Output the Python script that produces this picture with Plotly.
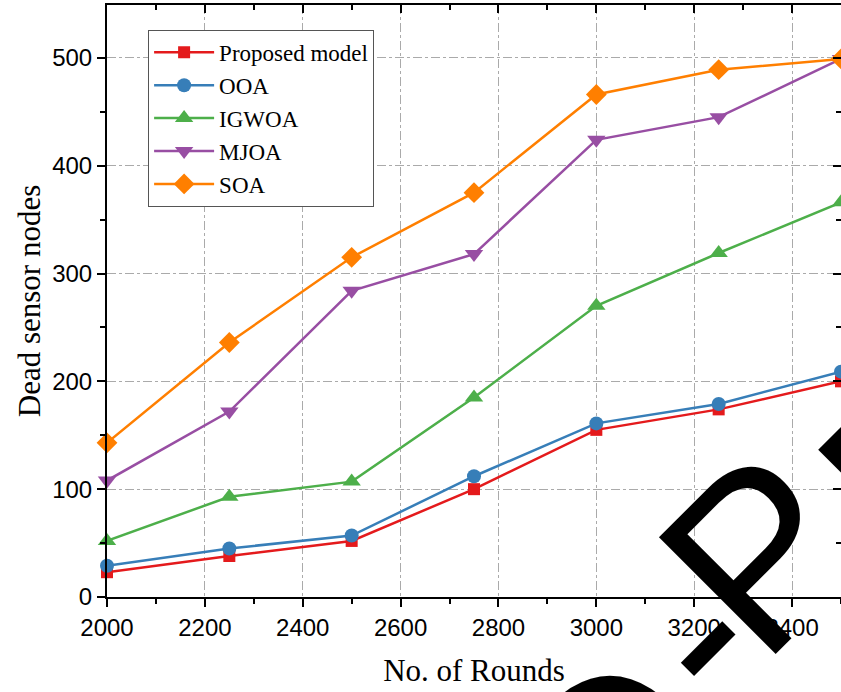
import plotly.graph_objects as go

rounds = [2000, 2250, 2500, 2750, 3000, 3250, 3500]
proposed = [23, 38, 52, 100, 155, 174, 200]
ooa = [29, 45, 57, 112, 161, 179, 209]
igwoa = [52, 93, 107, 185, 270, 319, 366]
mjoa = [108, 172, 284, 318, 424, 445, 499]
soa = [143, 236, 315, 375, 466, 489, 499]

series = [
    ("Proposed model", proposed, "#e41a1c", "square", 12),
    ("OOA", ooa, "#377eb8", "circle", 14),
    ("IGWOA", igwoa, "#4daf4a", "triangle-up", 16),
    ("MJOA", mjoa, "#984ea3", "triangle-down", 16),
    ("SOA", soa, "#ff7f00", "diamond", 16),
]

xticks = [2000, 2200, 2400, 2600, 2800, 3000, 3200, 3400]
yticks = [0, 100, 200, 300, 400, 500]
xrange_ = [2000, 3500]
yrange_ = [0, 549]

fig = go.Figure()
for name, vals, col, sym, sz in series:
    fig.add_trace(go.Scatter(
        x=rounds, y=vals, name=name, mode="lines+markers",
        line=dict(color=col, width=2.5),
        marker=dict(symbol=sym, size=sz, color=col),
        cliponaxis=False,
    ))

tickfont = dict(family="Liberation Sans, Arial", size=24, color="black")
titlefont = dict(family="Liberation Serif, Times New Roman", size=31, color="black")

fig.update_layout(
    width=841, height=692,
    margin=dict(l=107, r=0, t=5, b=95),
    plot_bgcolor="white", paper_bgcolor="white",
    showlegend=True,
    legend=dict(
        x=0.056, y=0.958, xanchor="left", yanchor="top",
        font=dict(family="Liberation Serif, Times New Roman", size=23, color="black"),
        bordercolor="#555555", borderwidth=1, bgcolor="white",
        tracegroupgap=0, itemwidth=60,
    ),
    xaxis=dict(
        range=xrange_, tickvals=xticks, ticktext=[str(v) for v in xticks],
        showline=True, linecolor="black", linewidth=2,
        ticks="outside", ticklen=8, tickwidth=2, tickcolor="black",
        showgrid=True, gridcolor="#aaaaaa", griddash="dashdot", gridwidth=1,
        minor=dict(dtick=100, tick0=2000, ticks="outside", ticklen=5, tickwidth=2, tickcolor="black", showgrid=False),
        tickfont=tickfont, zeroline=False,
        title=dict(text="No. of Rounds", font=titlefont, standoff=20),
    ),
    yaxis=dict(
        range=yrange_, tickvals=yticks,
        showline=True, linecolor="black", linewidth=2,
        ticks="outside", ticklen=8, tickwidth=2, tickcolor="black",
        showgrid=True, gridcolor="#aaaaaa", griddash="dashdot", gridwidth=1,
        minor=dict(dtick=50, tick0=0, ticks="outside", ticklen=5, tickwidth=2, tickcolor="black", showgrid=False),
        tickfont=tickfont, zeroline=False,
        title=dict(text="Dead sensor nodes", font=titlefont, standoff=2),
    ),
    xaxis2=dict(
        overlaying="x", side="top", range=xrange_, tickvals=xticks,
        showticklabels=False, showline=True, linecolor="black", linewidth=2,
        ticks="inside", ticklen=8, tickwidth=2, tickcolor="black",
        minor=dict(dtick=100, tick0=2000, ticks="inside", ticklen=5, tickwidth=2, tickcolor="black"),
        showgrid=False, zeroline=False,
    ),
    yaxis2=dict(
        overlaying="y", side="right", range=yrange_, tickvals=yticks,
        showticklabels=False, showline=True, linecolor="black", linewidth=2,
        ticks="inside", ticklen=8, tickwidth=2, tickcolor="black",
        minor=dict(dtick=50, tick0=0, ticks="inside", ticklen=5, tickwidth=2, tickcolor="black"),
        showgrid=False, zeroline=False,
    ),
)

# invisible helper trace so the mirrored axes get drawn
fig.add_trace(go.Scatter(x=[None], y=[None], xaxis="x2", yaxis="y2", showlegend=False, hoverinfo="skip"))

# watermark letters (decoration), rotated
wm_letters = ["O", "-", "P", "R"]
wm_x = [0.689, 0.801, 0.889, 1.112]
wm_y = [-0.279, -0.065, 0.074, 0.230]
for ch, wx, wy in zip(wm_letters, wm_x, wm_y):
    fig.add_annotation(
        text=ch, xref="paper", yref="paper", x=wx, y=wy,
        xanchor="center", yanchor="middle", textangle=-45, showarrow=False,
        font=dict(family="Liberation Sans, Arial", size=240, color="black"),
    )

fig.write_html("out.html")
